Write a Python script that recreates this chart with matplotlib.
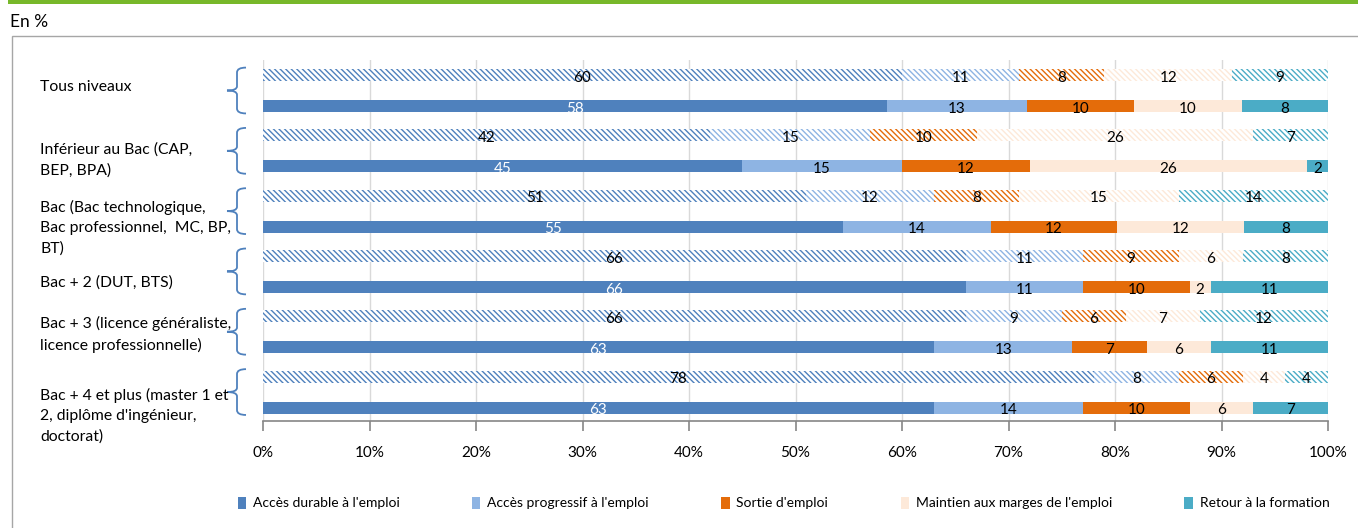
import numpy as np
import matplotlib.pyplot as plt
from matplotlib.path import Path
from matplotlib.patches import PathPatch, Rectangle
import matplotlib.transforms as mtransforms

plt.rcParams['font.family'] = ['Lato', 'DejaVu Sans']
plt.rcParams['hatch.linewidth'] = 1.0

# categories (top to bottom)
categories = ["Tous niveaux",
              "Inférieur au Bac (CAP,\nBEP, BPA)",
              "Bac (Bac technologique,\nBac professionnel,  MC, BP,\nBT)",
              "Bac + 2 (DUT, BTS)",
              "Bac + 3 (licence généraliste,\nlicence professionnelle)",
              "Bac + 4 et plus (master 1 et\n2, diplôme d'ingénieur,\ndoctorat)"]
series = ["Accès durable à l'emploi", "Accès progressif à l'emploi", "Sortie d'emploi",
          "Maintien aux marges de l'emploi", "Retour à la formation"]
colors = ['#4F81BD', '#8EB4E3', '#E46C0A', '#FDE9D9', '#4BACC6']

# hatched bars (upper bar of each group)
durable_h = [60, 42, 51, 66, 66, 78]
progressif_h = [11, 15, 12, 11, 9, 8]
sortie_h = [8, 10, 8, 9, 6, 6]
marges_h = [12, 26, 15, 6, 7, 4]
retour_h = [9, 7, 14, 8, 12, 4]

# solid bars (lower bar of each group)
durable_s = [58, 45, 55, 66, 63, 63]
progressif_s = [13, 15, 14, 11, 13, 14]
sortie_s = [10, 12, 12, 10, 7, 10]
marges_s = [10, 26, 12, 2, 6, 6]
retour_s = [8, 2, 8, 11, 11, 7]

ticks = [0, 10, 20, 30, 40, 50, 60, 70, 80, 90, 100]
tick_labels = ['0%', '10%', '20%', '30%', '40%', '50%', '60%', '70%', '80%', '90%', '100%']

hatched = np.array([durable_h, progressif_h, sortie_h, marges_h, retour_h], dtype=float)
solid = np.array([durable_s, progressif_s, sortie_s, marges_s, retour_s], dtype=float)

fig = plt.figure(figsize=(13.58, 5.28), dpi=100)
ax = fig.add_axes([263 / 1358, 1 - 421 / 528, 1065 / 1358, 361 / 528])

y = np.arange(len(categories))
off = 0.257
h = 0.2

for data, ypos, is_hatched in [(hatched, y - off, True), (solid, y + off, False)]:
    pct = data / data.sum(axis=0) * 100
    left = np.zeros(len(categories))
    for k in range(len(series)):
        if is_hatched:
            ax.barh(ypos, pct[k], left=left, height=h, color='white', edgecolor=colors[k],
                    hatch='\\\\\\\\\\\\', linewidth=0, zorder=3)
        else:
            ax.barh(ypos, pct[k], left=left, height=h, color=colors[k], linewidth=0,
                    zorder=3, label=series[k])
        for j in range(len(categories)):
            tc = 'white' if (k == 0 and not is_hatched) else 'black'
            ax.text(left[j] + pct[k][j] / 2, ypos[j] + 0.045, "%d" % data[k][j],
                    ha='center', va='center', fontsize=11, color=tc, zorder=4)
        left += pct[k]

ax.set_xlim(0, 100)
ax.set_ylim(5.48, -0.506)
ax.set_xticks(ticks)
ax.set_xticklabels(tick_labels, fontsize=11)
ax.set_yticks([])
ax.grid(axis='x', color='#D9D9D9', linewidth=1, zorder=0)
for s in ['top', 'right', 'left']:
    ax.spines[s].set_visible(False)
ax.spines['bottom'].set_color('#868686')
ax.spines['bottom'].set_linewidth(1.2)
ax.tick_params(axis='x', direction='out', length=7, width=1.2, color='#868686', pad=11)

# category labels and braces
trans = mtransforms.blended_transform_factory(ax.transAxes, ax.transData)
label_y = [-0.06, 1.15, 2.28, 3.18, 4.05, 5.4]
for j, cat in enumerate(categories):
    ax.text((40 - 263) / 1065, label_y[j], cat, transform=trans, ha='left', va='center',
            fontsize=11.3, linespacing=1.55, clip_on=False)
    c = y[j]
    hh = 0.38
    xt, xv, xm = (246 - 263) / 1065, (237 - 263) / 1065, (227 - 263) / 1065
    verts = [(xt, c - hh), (xv, c - hh), (xv, c - hh + 0.08), (xv, c - 0.07),
             (xv, c), (xm, c), (xv, c), (xv, c + 0.07), (xv, c + hh - 0.08),
             (xv, c + hh), (xt, c + hh)]
    codes = [Path.MOVETO, Path.CURVE3, Path.CURVE3, Path.LINETO, Path.CURVE3, Path.CURVE3,
             Path.CURVE3, Path.CURVE3, Path.LINETO, Path.CURVE3, Path.CURVE3]
    ax.add_patch(PathPatch(Path(verts, codes), transform=trans, fill=False,
                           edgecolor='#4F81BD', linewidth=1.3, clip_on=False))

# frame, header
fig.add_artist(Rectangle((12 / 1358, -0.05), 1.1, 1 - 36 / 528 + 0.05, transform=fig.transFigure,
                         fill=False, edgecolor='#A6A6A6', linewidth=1))
fig.add_artist(Rectangle((8 / 1358, 1 - 4 / 528), 1.1, 4 / 528, transform=fig.transFigure,
                         facecolor='#77B82A', edgecolor='none'))
fig.text(10 / 1358, 1 - 22 / 528, 'En %', fontsize=12.5, ha='left', va='center')

fig.legend(loc='center', bbox_to_anchor=(0.577, 1 - 503 / 528), ncol=5, frameon=False,
           fontsize=10, handlelength=0.6, handleheight=1.0, handletextpad=0.5, columnspacing=5.2)

fig.savefig('out.png', dpi=100)
